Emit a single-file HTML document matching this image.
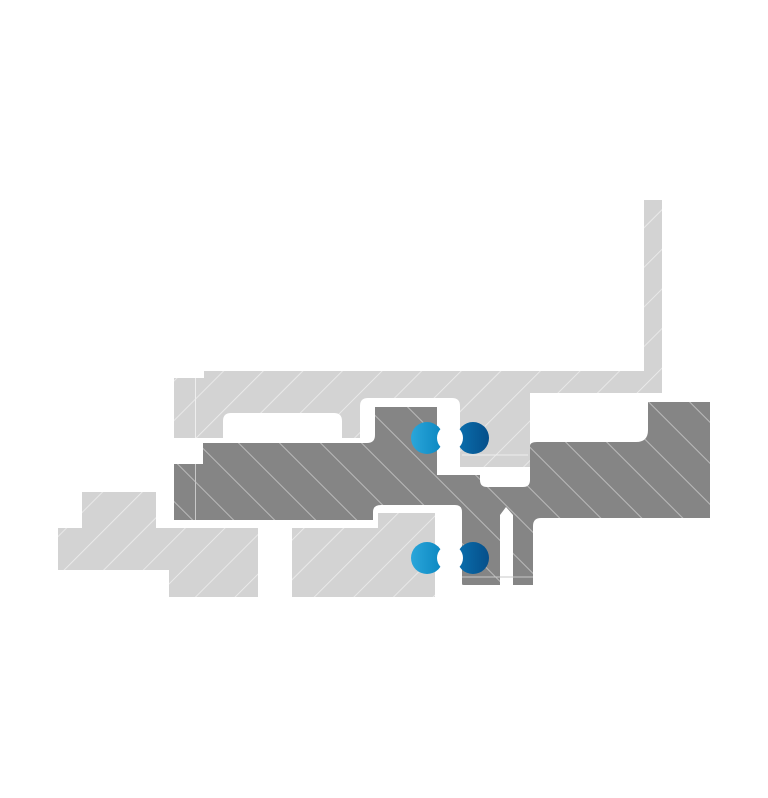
<!DOCTYPE html>
<html><head><style>html,body{margin:0;padding:0;background:#fff}svg{display:block}</style></head>
<body>
<svg width="768" height="798" viewBox="0 0 768 798" xmlns="http://www.w3.org/2000/svg">
<defs>
<pattern id="hl" patternUnits="userSpaceOnUse" width="28" height="28" patternTransform="rotate(45)">
<rect width="28" height="28" fill="#d3d3d3"/><line x1="0" y1="0" x2="0" y2="28" stroke="#eeeeee" stroke-width="1.6"/>
</pattern>
<pattern id="hd" patternUnits="userSpaceOnUse" width="29" height="29" patternTransform="rotate(-45)">
<rect width="29" height="29" fill="#858585"/><line x1="0" y1="0" x2="0" y2="29" stroke="#c8c8c8" stroke-width="1.6"/>
</pattern>
<linearGradient id="b1" x1="0" x2="1"><stop offset="0" stop-color="#2aa6da"/><stop offset="1" stop-color="#0b86c0"/></linearGradient>
<linearGradient id="b2" x1="0" x2="1"><stop offset="0" stop-color="#0a6fae"/><stop offset="1" stop-color="#054f8a"/></linearGradient>
</defs>
<!-- top light housing -->
<path d="M644,200 H662 V393 H530 V467 H460 V406 Q460,398 452,398 H368 Q360,398 360,406 V438 H342 V421 Q342,413 334,413 H231 Q223,413 223,421 V438 H196 V378 H204 V371 H644 Z" fill="url(#hl)"/>
<rect x="174" y="378" width="21" height="60" fill="url(#hl)"/>
<line x1="195.5" y1="378" x2="195.5" y2="438" stroke="#eee" stroke-width="1"/>
<line x1="462" y1="455" x2="528" y2="455" stroke="#eee" stroke-width="1"/>
<!-- dark shaft -->
<path d="M203,443 H367 Q375,443 375,435 V407 H437 V475 H480 V480 Q480,487 487,487 H523 Q530,487 530,480 V446 Q530,442 537,442 H636 Q648,442 648,430 V402 H710 V518 H541 Q533,518 533,526 V585 H513 V515 L506,507 L500,515 V585 H462 V512 Q462,505 455,505 H381 Q373,505 373,512 V520 H196 V464 H203 Z" fill="url(#hd)"/>
<rect x="174" y="464" width="21" height="56" fill="url(#hd)"/>
<line x1="195.5" y1="464" x2="195.5" y2="520" stroke="#c8c8c8" stroke-width="1"/>
<line x1="462" y1="577" x2="533" y2="577" stroke="#c8c8c8" stroke-width="1"/>
<!-- lower light pieces -->
<path d="M292,528 H378 V513 H435 V597 H292 Z" fill="url(#hl)"/>
<path d="M82,492 H156 V528 H258 V597 H169 V570 H58 V528 H82 Z" fill="url(#hl)"/>
<!-- seals -->
<g>
<circle cx="427" cy="438" r="16" fill="url(#b1)"/>
<circle cx="473" cy="438" r="16" fill="url(#b2)"/>
<circle cx="450" cy="438" r="13" fill="#fff"/>
<circle cx="427" cy="558" r="16" fill="url(#b1)"/>
<circle cx="473" cy="558" r="16" fill="url(#b2)"/>
<circle cx="450" cy="558" r="13" fill="#fff"/>
</g>
</svg>
</body></html>
